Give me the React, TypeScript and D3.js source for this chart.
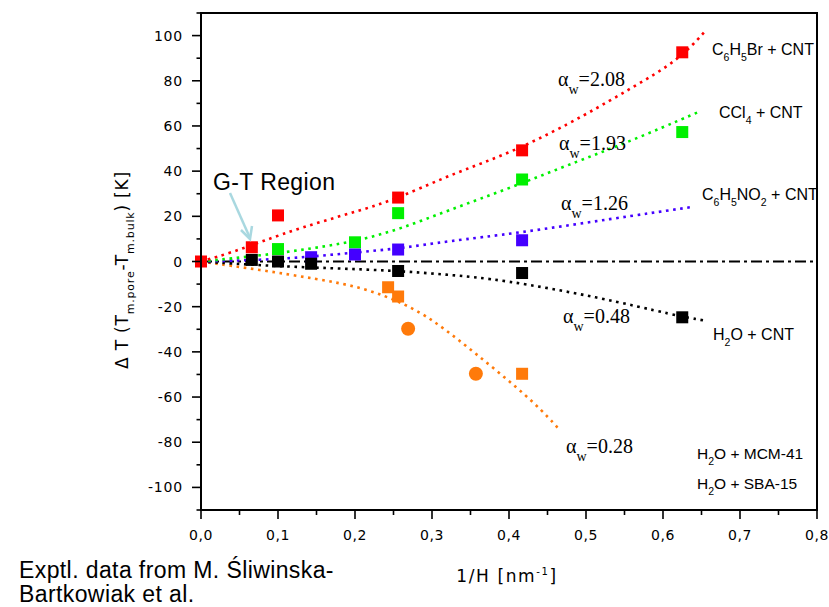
import React from 'react';
import * as d3 from 'd3';

// measured points, x = 1/H [nm^-1], y = Delta T [K]
const brX = [0, 0.066, 0.1, 0.256, 0.417, 0.625];
const brY = [0, 6.3, 20.4, 28.3, 49.2, 92.6];
const cclX = [0.1, 0.2, 0.256, 0.417, 0.625];
const cclY = [5.5, 8.5, 21.4, 36.3, 57.3];
const no2X = [0.143, 0.2, 0.256, 0.417];
const no2Y = [1.9, 3.1, 5.3, 9.4];
const h2oX = [0.066, 0.1, 0.143, 0.256, 0.417, 0.625];
const h2oY = [0.7, 0, -1, -4.2, -5.1, -24.7];
const mcmX = [0.243, 0.256, 0.417];
const mcmY = [-11.4, -15.5, -49.7];
const sbaX = [0.269, 0.357];
const sbaY = [-29.8, -49.7];

// fitted curves
const fitBrX = [0, 0.04, 0.08, 0.13, 0.19, 0.25, 0.32, 0.41, 0.5, 0.56, 0.62, 0.655];
const fitBrY = [0, 4, 9, 15, 21, 27, 38, 49, 65, 77, 89, 102];
const fitCclX = [0, 0.08, 0.14, 0.2, 0.26, 0.32, 0.405, 0.49, 0.556, 0.645];
const fitCclY = [0, 2.7, 5.6, 8.8, 14.5, 22.5, 33, 44.5, 53, 66];
const fitNo2X = [0, 0.08, 0.14, 0.2, 0.26, 0.32, 0.41, 0.535, 0.635];
const fitNo2Y = [0, 0.7, 2, 4, 5.8, 9, 12.5, 19, 24];
const fitH2oX = [0, 0.08, 0.17, 0.25, 0.32, 0.39, 0.517, 0.617, 0.655];
const fitH2oY = [0, -1.8, -3, -4, -5.8, -8, -15.8, -24, -26.2];
const fitOrX = [0, 0.077, 0.15, 0.21, 0.267, 0.301, 0.332, 0.383, 0.435, 0.467];
const fitOrY = [0, -3.7, -7.7, -11.4, -19, -26, -34, -48, -63, -75];

const xTicks = [0, 0.1, 0.2, 0.3, 0.4, 0.5, 0.6, 0.7, 0.8];
const yTicks = [-100, -80, -60, -40, -20, 0, 20, 40, 60, 80, 100];

const RED = '#ff0000';
const GREEN = '#00f000';
const BLUE = '#4400ff';
const BLACK = '#000000';
const ORANGE = '#ff7a0a';

const zip = (xs: number[], ys: number[]) => xs.map((x, i) => [x, ys[i]] as [number, number]);

const App = () => {
  const left = 201, right = 817, top = 13, bottom = 510;
  const x = d3.scaleLinear().domain([0, 0.8]).range([left, right]);
  const y = d3.scaleLinear().domain([-110, 110]).range([bottom, top]);
  const line = d3.line<[number, number]>()
    .x(d => x(d[0]))
    .y(d => y(d[1]))
    .curve(d3.curveBasis);

  const fits = [
    { xs: fitOrX, ys: fitOrY, c: ORANGE },
    { xs: fitH2oX, ys: fitH2oY, c: BLACK },
    { xs: fitNo2X, ys: fitNo2Y, c: BLUE },
    { xs: fitCclX, ys: fitCclY, c: GREEN },
    { xs: fitBrX, ys: fitBrY, c: RED },
  ];
  const squares = [
    { xs: mcmX, ys: mcmY, c: ORANGE },
    { xs: brX, ys: brY, c: RED },
    { xs: cclX, ys: cclY, c: GREEN },
    { xs: no2X, ys: no2Y, c: BLUE },
    { xs: h2oX, ys: h2oY, c: BLACK },
  ];
  const sq = 12;

  const sans = 'Liberation Sans, Arial, sans-serif';
  const serif = 'Liberation Serif, Times New Roman, serif';
  const tickFont = 'DejaVu Sans, sans-serif';

  const alpha = (xx: number, yy: number, v: string) => (
    <text x={xx} y={yy} fontFamily={serif} fontSize={20} fill="#000">
      α<tspan fontSize={14} dy={8}>w</tspan><tspan dy={-8} fontSize={20}>={v}</tspan>
    </text>
  );
  // chemical label: parts with optional subscript flag
  const chem = (xx: number, yy: number, parts: [string, boolean][], fs = 16) => (
    <text x={xx} y={yy} fontFamily={sans} fontSize={fs} fill="#000">
      {parts.map((p, i) => {
        const prevSub = i > 0 && parts[i - 1][1];
        const dy = p[1] ? 6 : prevSub ? -6 : 0;
        return <tspan key={i} dy={dy} fontSize={p[1] ? 10.5 : fs}>{p[0]}</tspan>;
      })}
    </text>
  );

  const xMinor = d3.range(0, 0.801, 0.05);
  const yMinor = d3.range(-110, 110.1, 10);

  return (
    <svg width={829} height={607} style={{ position: 'absolute', left: 0, top: 0, background: '#fff' }}>
      <rect x={0} y={0} width={829} height={607} fill="#fff" />
      {/* zero line */}
      <line x1={left} x2={right} y1={y(0)} y2={y(0)} stroke="#000" strokeWidth={2} strokeDasharray="11,4,3,4" />
      {/* fits */}
      {fits.map((f, i) => (
        <path key={i} d={line(zip(f.xs, f.ys)) || ''} fill="none" stroke={f.c} strokeWidth={2.6} strokeDasharray="2.6,4.6" />
      ))}
      {/* markers */}
      {squares.map((s, i) => (
        <g key={i}>
          {zip(s.xs, s.ys).map((d, j) => (
            <rect key={j} x={x(d[0]) - sq / 2} y={y(d[1]) - sq / 2} width={sq} height={sq} fill={s.c} />
          ))}
        </g>
      ))}
      {zip(sbaX, sbaY).map((d, j) => (
        <circle key={j} cx={x(d[0])} cy={y(d[1])} r={7} fill={ORANGE} />
      ))}
      {/* frame */}
      <rect x={left} y={top} width={right - left} height={bottom - top} fill="none" stroke="#000" strokeWidth={2} />
      {/* y ticks */}
      {yMinor.map((v, i) => {
        const major = Math.round(v) % 20 === 0;
        return <line key={i} x1={left - (major ? 9 : 4.5)} x2={left} y1={y(v)} y2={y(v)} stroke="#000" strokeWidth={1.6} />;
      })}
      {yTicks.map(v => (
        <text key={v} x={183} y={y(v)} dy="0.36em" textAnchor="end" fontFamily={tickFont} fontSize={14} letterSpacing={0.8} fill="#000">{v}</text>
      ))}
      {/* x ticks */}
      {xMinor.map((v, i) => {
        const major = i % 2 === 0;
        return <line key={i} x1={x(v)} x2={x(v)} y1={bottom} y2={bottom + (major ? 9 : 5)} stroke="#000" strokeWidth={1.6} />;
      })}
      {xTicks.map(v => (
        <text key={v} x={x(v)} y={540} textAnchor="middle" fontFamily={tickFont} fontSize={14} letterSpacing={0.5} fill="#000">{v.toFixed(1).replace('.', ',')}</text>
      ))}
      {/* axis titles */}
      <text x={507} y={582} textAnchor="middle" fontFamily={tickFont} fontSize={17} letterSpacing={1.6} fill="#000">
        1/H  [nm<tspan dy={-7} fontSize={10}>-1</tspan><tspan dy={7}>]</tspan>
      </text>
      <g transform="translate(128,270) rotate(-90)">
        <text x={0} y={0} textAnchor="middle" fontFamily={tickFont} fontSize={17} letterSpacing={0.8} fill="#000">
          Δ T  (T<tspan dy={6} fontSize={11}>m.pore</tspan><tspan dy={-6}>-T</tspan><tspan dy={6} fontSize={11}>m.bulk</tspan><tspan dy={-6}>) [K]</tspan>
        </text>
      </g>
      {/* alpha annotations */}
      {alpha(558, 86, '2.08')}
      {alpha(559, 150, '1.93')}
      {alpha(561, 210, '1.26')}
      {alpha(563, 323, '0.48')}
      {alpha(566, 453, '0.28')}
      {/* series labels */}
      {chem(712, 55, [['C', false], ['6', true], ['H', false], ['5', true], ['Br + CNT', false]])}
      {chem(719, 118, [['CCl', false], ['4', true], [' + CNT', false]])}
      {chem(702, 200, [['C', false], ['6', true], ['H', false], ['5', true], ['NO', false], ['2', true], [' + CNT', false]])}
      {chem(713, 340, [['H', false], ['2', true], ['O + CNT', false]])}
      {chem(697, 459, [['H', false], ['2', true], ['O + MCM-41', false]], 15.5)}
      {chem(697, 489, [['H', false], ['2', true], ['O + SBA-15', false]], 15.5)}
      {/* G-T region */}
      <text x={213} y={190} fontFamily={sans} fontSize={23} letterSpacing={0.4} fill="#000">G-T Region</text>
      <line x1={230} y1={193} x2={250} y2={238} stroke="#a9d8e0" strokeWidth={2.5} />
      <path d="M241,230 L250,239 L252,226" fill="none" stroke="#a9d8e0" strokeWidth={2.5} />
      {/* footer */}
      <text x={19} y={578} fontFamily={sans} fontSize={23} letterSpacing={0.4} fill="#000">Exptl. data from M. Śliwinska-</text>
      <text x={19} y={602} fontFamily={sans} fontSize={23} letterSpacing={0.4} fill="#000">Bartkowiak et al.</text>
    </svg>
  );
};

export default App;
